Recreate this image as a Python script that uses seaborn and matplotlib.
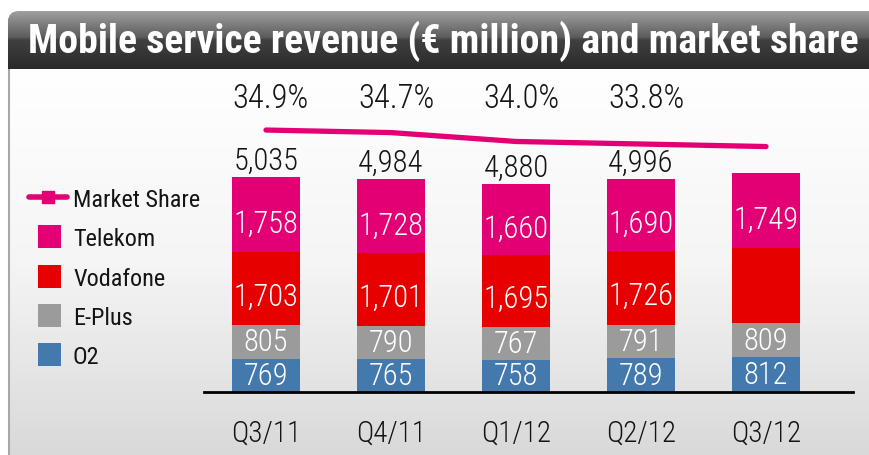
import numpy as np
import seaborn as sns
import matplotlib.pyplot as plt
from matplotlib import font_manager
from matplotlib.patches import FancyBboxPatch, Rectangle, Patch
from matplotlib.lines import Line2D
from matplotlib.legend_handler import HandlerPatch
from matplotlib.colors import LinearSegmentedColormap

# data
quarters = ["Q3/11", "Q4/11", "Q1/12", "Q2/12", "Q3/12"]
o2 = [769, 765, 758, 789, 812]
eplus = [805, 790, 767, 791, 809]
vodafone = [1703, 1701, 1695, 1726, 1760]   # Q3/12 not labelled
telekom = [1758, 1728, 1660, 1690, 1749]
vodafone_labels = ["1,703", "1,701", "1,695", "1,726", ""]
total_labels = ["5,035", "4,984", "4,880", "4,996", ""]
market_share = [34.9, 34.7, 34.0, 33.8, 33.6]  # last point unlabelled, estimated
share_labels = ["34.9%", "34.7%", "34.0%", "33.8%", ""]

MAGENTA = "#e20074"
TEXT = "#141414"
colors = {"Telekom": MAGENTA, "Vodafone": "#e60000", "E-Plus": "#9b9b9b", "O2": "#4379ad"}

sns.set_theme(style="white")
installed = {f.name for f in font_manager.fontManager.ttflist}
NARROW = "Roboto Condensed" if "Roboto Condensed" in installed else "DejaVu Sans"
plt.rcParams["font.family"] = [NARROW, "DejaVu Sans"]

W, H = 869, 456
fig = plt.figure(figsize=(W / 100, H / 100), dpi=100)
fig.patch.set_facecolor("white")

# background drawn in pixel coordinates
bg = fig.add_axes([0, 0, 1, 1])
bg.set_xlim(0, W)
bg.set_ylim(H, 0)
bg.axis("off")

body_cmap = LinearSegmentedColormap.from_list("body", ["#ffffff", "#f5f5f5", "#d9d9d9"])
grad = np.linspace(0, 1, 256).reshape(-1, 1)
bg.imshow(grad, extent=[9, W, H, 70], cmap=body_cmap, aspect="auto", origin="upper", zorder=0)
bg.plot([8.5, 8.5], [20, H], color="#a8a8a8", lw=1.5, zorder=1)

title_cmap = LinearSegmentedColormap.from_list(
    "title", [(0, "#a0a0a0"), (0.45, "#5c5c5c"), (0.5, "#404040"), (1, "#2a2a2a")])
bar_shape = FancyBboxPatch((8, 12), W + 40, 80, boxstyle="round,pad=0,rounding_size=11",
                           facecolor="none", edgecolor="none")
bg.add_patch(bar_shape)
title_img = bg.imshow(grad, extent=[8, W, 70, 12], cmap=title_cmap, aspect="auto",
                      origin="upper", zorder=2)
title_img.set_clip_path(bar_shape)
title = bg.text(28, 41, "Mobile service revenue (\u20ac million) and market share", color="white",
                fontsize=28, fontweight="bold", va="center", ha="left", zorder=3)
# fit the title to the width it takes in the reference
renderer = fig.canvas.get_renderer()
tw = title.get_window_extent(renderer).width
title.set_fontsize(28 * 832 / tw)

# main chart axes
left, right, base, top = 204, 853, 393, 80
ax = fig.add_axes([left / W, (H - base) / H, (right - left) / W, (base - top) / H])
ax.patch.set_alpha(0)

layers = [("O2", o2), ("E-Plus", eplus), ("Vodafone", vodafone), ("Telekom", telekom)]
label_shift = {"O2": 0, "E-Plus": 0, "Vodafone": -190, "Telekom": -210}
cum = np.cumsum([vals for _, vals in layers], axis=0)

for idx in range(len(layers) - 1, -1, -1):
    name = layers[idx][0]
    sns.barplot(x=quarters, y=cum[idx], color=colors[name], saturation=1, width=0.544,
                linewidth=0, ax=ax, zorder=2)

for i in range(len(quarters)):
    bottom = 0
    for name, vals in layers:
        label = f"{vals[i]:,}"
        if name == "Vodafone":
            label = vodafone_labels[i]
        ax.text(i, bottom + vals[i] / 2 + label_shift[name], label, color="white",
                fontsize=22, fontweight="light", ha="center", va="center", zorder=3)
        bottom += vals[i]
    ax.text(i, cum[-1][i] + 390, total_labels[i], color=TEXT, fontsize=22,
            fontweight="light", ha="center", va="center", zorder=3)

ax.set_ylim(0, 7330)
ax.set_xlim(-0.496, 4.696)
ax.set_xlabel("")
ax.set_ylabel("")
ax.set_yticks([])
for s in ["top", "left", "right"]:
    ax.spines[s].set_visible(False)
ax.spines["bottom"].set_color("black")
ax.spines["bottom"].set_linewidth(2)
ax.tick_params(axis="x", length=0, pad=19, labelsize=21, labelcolor=TEXT)
for t in ax.get_xticklabels():
    t.set_fontweight("light")

# market share line on a second scale
ax2 = ax.twinx()
sns.lineplot(x=np.arange(len(quarters)), y=market_share, color=MAGENTA, lw=3.8, ax=ax2,
             zorder=4)
ax2.set_ylim(14.27, 38.92)
ax2.set_xlim(-0.496, 4.696)
ax2.axis("off")
for i, lab in enumerate(share_labels):
    ax2.text(i + 0.04, 37.4, lab, color=TEXT, fontsize=23.5, fontweight="light",
             ha="center", va="center")

# legend
def square_patch(legend, orig_handle, xdescent, ydescent, width, height, fontsize):
    side = 23 * 72 / 100
    return Rectangle((-xdescent + (width - side) / 2 + 1, -ydescent + (height - side) / 2),
                     side, side)

handles = [Line2D([0], [0], color=MAGENTA, lw=4, marker="s", markersize=9)]
labels = ["Market Share"]
for name in ["Telekom", "Vodafone", "E-Plus", "O2"]:
    handles.append(Patch(facecolor=colors[name], edgecolor="none"))
    labels.append(name)

fig.legend(handles, labels, loc="upper left", bbox_to_anchor=(29 / W, 1 - 189 / H),
           frameon=False, fontsize=17.5, labelspacing=0.67, handlelength=1.56,
           handletextpad=0.25, borderaxespad=0, borderpad=0, labelcolor=TEXT,
           handler_map={Patch: HandlerPatch(patch_func=square_patch)})

fig.savefig("out.png", dpi=100)
